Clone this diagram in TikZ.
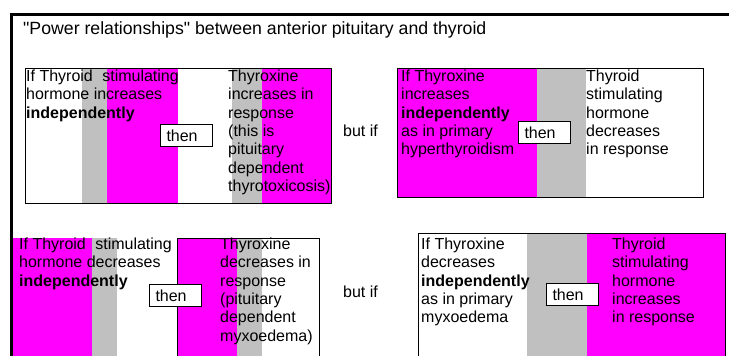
\documentclass[tikz,border=0pt]{standalone}
\usepackage{fontspec}
\setmainfont{Liberation Sans}
\definecolor{mag}{HTML}{FF00FF}
\definecolor{band}{HTML}{C0C0C0}
\newcommand\firstln{\rule{0pt}{12pt}}
\newcommand\sq{\XeTeXglyph\XeTeXglyphindex "quotedbl"\relax}
\tikzset{
  body/.style={anchor=north west, inner sep=0pt, align=left, font=\fontsize{16}{18.4}\selectfont},
  thenbox/.style={draw=black, line width=1pt, fill=white, anchor=north west, inner xsep=6pt, inner ysep=0pt, text width=40pt, minimum height=22pt, align=left, font=\fontsize{16}{18.4}\selectfont},
  panel/.style={draw=black, line width=1pt},
  butif/.style={anchor=base west, inner sep=0pt, font=\fontsize{16}{18.4}\selectfont},
  frame/.style={draw=black, line width=3pt},
}
\begin{document}
\begin{tikzpicture}[x=1pt,y=-1pt]
\useasboundingbox (0,0) rectangle (729,356);
% outer frame
\draw[frame] (11,357) |- (729,14);
\node[anchor=base west, inner sep=0pt, font=\fontsize{17.7}{22}\selectfont] (title) at (23,34.5) {\sq Power relationships\sq{} between anterior pituitary and thyroid};
% panel 1
\fill[band] (82,68) rectangle (107,203);
\fill[mag] (107,68) rectangle (178,203);
\fill[band] (232,68) rectangle (262,203);
\fill[mag] (262,68) rectangle (331,203);
\draw[panel] (25,68) rectangle (331,203);
\node[body] (p1l) at (26,69) {\firstln If Thyroid\hspace{5pt} stimulating\\hormone increases\\\textbf{independently}};
\node[body] (p1r) at (228,69) {\firstln Thyroxine\\increases in\\response\\(this is\\pituitary\\dependent\\thyrotoxicosis)};
\node[thenbox] (p1t) at (160,124) {then};
\node[butif] (b1) at (343,136) {but if};
% panel 2
\fill[mag] (397,68) rectangle (537,197);
\fill[band] (537,68) rectangle (586,197);
\draw[panel] (397,68) rectangle (703,197);
\node[body] (p2l) at (401,69) {\firstln If Thyroxine\\increases\\\textbf{independently}\\as in primary\\hyperthyroidism};
\node[body] (p2r) at (586,69) {\firstln Thyroid\\stimulating\\hormone\\decreases\\in response};
\node[thenbox] (p2t) at (518,121) {then};
% panel 3
\fill[mag] (12.5,238) rectangle (92,357);
\fill[band] (92,238) rectangle (117,357);
\fill[mag] (177,238) rectangle (237,357);
\fill[band] (237,238) rectangle (262,357);
\draw[panel] (177,358) |- (319,238) -- (319,358);
\node[body] (p3l) at (19,237) {\firstln If Thyroid\hspace{5pt} stimulating\\hormone decreases\\\textbf{independently}};
\node[body] (p3r) at (220,237) {\firstln Thyroxine\\decreases in\\response\\(pituitary\\dependent\\myxoedema)};
\node[thenbox] (p3t) at (149,284) {then};
\node[butif] (b2) at (343,297) {but if};
% panel 4
\fill[band] (527,233) rectangle (587,357);
\fill[mag] (587,233) rectangle (725,357);
\draw[panel] (418,358) |- (725,233) -- (725,358);
\node[body] (p4l) at (421,237) {\firstln If Thyroxine\\decreases\\\textbf{independently}\\as in primary\\myxoedema};
\node[body] (p4r) at (612,237) {\firstln Thyroid\\stimulating\\hormone\\increases\\in response};
\node[thenbox] (p4t) at (546,283) {then};
\end{tikzpicture}
\end{document}
